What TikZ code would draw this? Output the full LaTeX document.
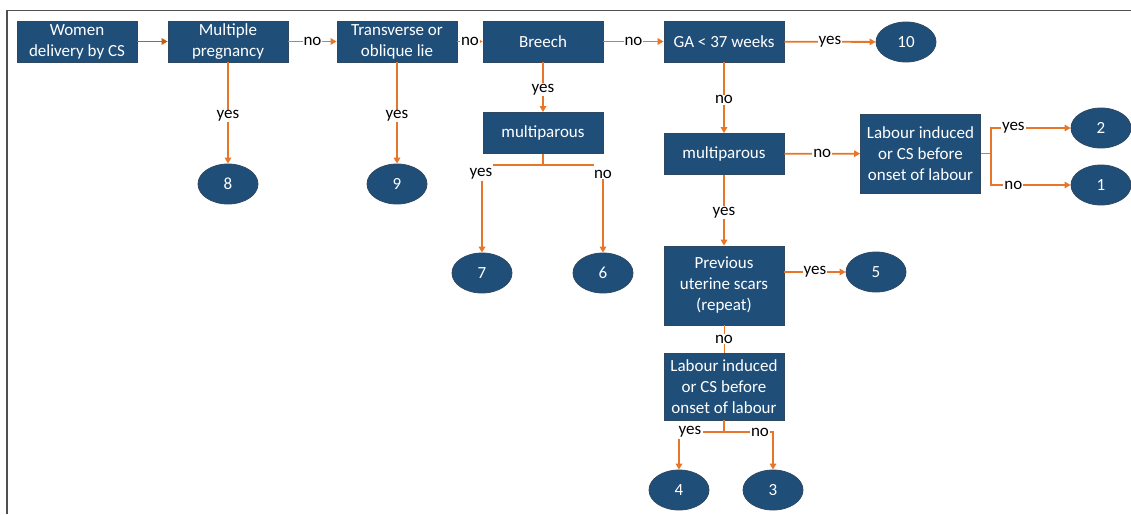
\documentclass[tikz,border=0pt]{standalone}
\usepackage{fontspec}
\setmainfont{Carlito}
\usetikzlibrary{arrows.meta,shapes.geometric}
\definecolor{boxblue}{RGB}{31,78,121}
\definecolor{boxedge}{RGB}{47,72,98}
\definecolor{lineor}{RGB}{232,118,40}
\definecolor{linedark}{RGB}{197,90,17}
\definecolor{framegray}{RGB}{80,80,80}
\tikzset{
  box/.style={rectangle, fill=boxblue, draw=boxedge, line width=0.8pt, text=white,
    minimum width=120pt, minimum height=41pt, inner sep=0pt, align=center,
    font=\fontsize{17}{21}\selectfont},
  tall/.style={box, minimum height=79pt},
  oval/.style={ellipse, fill=boxblue, draw=boxedge, line width=0.8pt, text=white,
    minimum width=60pt, minimum height=40pt, inner sep=0pt,
    font=\fontsize{17}{21}\selectfont},
  lab/.style={fill=white, text=black, inner sep=1pt, font=\fontsize{17}{21}\selectfont},
  conn/.style={draw=lineor, line width=1.8pt},
  arr/.style={conn, -{Triangle[length=6pt,width=6.5pt]}},
}
\begin{document}
\begin{tikzpicture}[x=1pt,y=-1pt]
\useasboundingbox (0,0) rectangle (1131,514);
% partial frame
\draw[framegray, line width=1.2pt] (7,514) -- (7,10.5) -- (1131,10.5);

% boxes
\node[box] (wd) at (77,41.5) {Women\\delivery by CS};
\node[box] (mp) at (228,41.5) {Multiple\\pregnancy};
\node[box] (tl) at (397,41.5) {Transverse or\\oblique lie};
\node[box] (br) at (543,41.5) {Breech};
\node[box] (ga) at (724,41.5) {GA < 37 weeks};
\node[box] (mpa) at (543,133) {multiparous};
\node[box] (mpb) at (724,154) {multiparous};
\node[tall] (lia) at (920.5,153.5) {Labour induced\\or CS before\\onset of labour};
\node[tall] (pus) at (724,285.5) {Previous\\uterine scars\\(repeat)};
\node[box, minimum height=67pt] (lib) at (724,386.5) {Labour induced\\or CS before\\onset of labour};

% ellipses
\node[oval] (e10) at (906,42) {10};
\node[oval] (e2) at (1101,128) {2};
\node[oval] (e1) at (1101,185) {1};
\node[oval] (e8) at (228,184) {8};
\node[oval] (e9) at (397,184) {9};
\node[oval] (e7) at (482,273) {7};
\node[oval] (e6) at (603,273) {6};
\node[oval] (e5) at (876,272) {5};
\node[oval] (e4) at (679,490) {4};
\node[oval] (e3) at (773,490) {3};

% top row
\draw[arr, draw=linedark] (wd) -- (mp);
\draw[arr] (mp) -- node[lab]{no} (tl);
\draw[arr] (tl) -- node[lab]{no} (br);
\draw[arr] (br) -- node[lab]{no} (ga);
\draw[arr] (ga) -- node[lab]{yes} (e10);

% verticals
\draw[arr] (mp) -- node[lab, yshift=-3pt]{yes} (e8);
\draw[arr] (tl) -- node[lab, yshift=-3pt]{yes} (e9);
\draw[arr] (br) -- node[lab, yshift=-2pt]{yes} (mpa);
\draw[arr] (ga) -- node[lab, yshift=-2pt]{no} (mpb);
\draw[arr] (mpb) -- node[lab, yshift=-2pt]{yes} (pus);
\draw[conn, line width=0.8pt] (pus) -- node[lab]{no} (lib);

% left multiparous fork
\coordinate (fa) at (543,165);
\coordinate (fal) at (493,165);
\coordinate (far) at (594,165);
\draw[conn] (mpa.south) -- (fa);
\draw[conn] (fal) -- (far);
\node[lab] (y7) at (481,174) {yes};
\node[lab] (n6) at (603,174) {no};
\draw[arr] (y7.south -| e7) -- (e7);
\draw[arr] (n6.south -| e6) -- (e6);

% right multiparous
\draw[arr] (mpb) -- node[lab]{no} (lia);

% labour induced (right) fork
\coordinate (fk) at (991,153.5);
\draw[conn] (lia.east) -- (fk);
\draw[arr] (fk) |- node[lab,pos=0.64]{yes} (e2);
\draw[arr] (fk) |- node[lab,pos=0.64]{no} (e1);

% previous scars -> 5
\draw[arr] (pus.east |- e5) -- node[lab]{yes} (e5);

% bottom labour fork
\coordinate (fb) at (724,432);
\node[lab] (y4) at (690,432) {yes};
\node[lab] (n3) at (760,432) {no};
\draw[conn] (lib.south) -- (fb);
\draw[conn] (fb) -- (y4);
\draw[conn] (fb) -- (n3);
\draw[arr] (y4.south -| e4) -- (e4);
\draw[arr] (n3.east) -| (e3);
\end{tikzpicture}
\end{document}
